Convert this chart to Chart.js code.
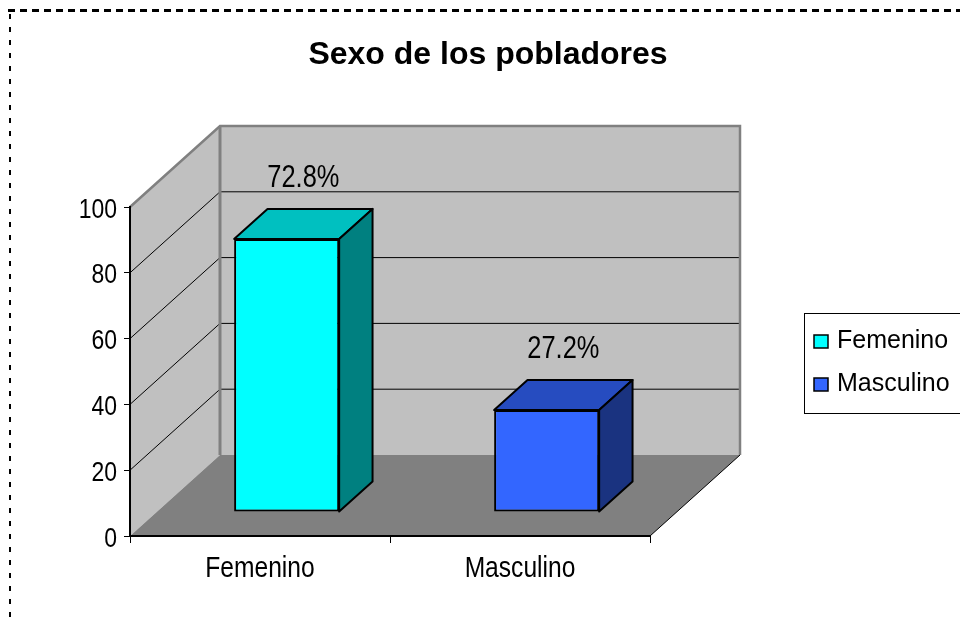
<!DOCTYPE html>
<html>
<head>
<meta charset="utf-8">
<script src="https://cdn.jsdelivr.net/npm/chart.js@4.4.1/dist/chart.umd.min.js"></script>
<style>
  html, body { margin: 0; padding: 0; background: #fff; }
  #wrap { width: 960px; height: 622px; }
</style>
</head>
<body>
<div id="wrap"><canvas id="grafico" width="960" height="622"></canvas></div>
<script>
const chartTitle = "Sexo de los pobladores";
const categories = ["Femenino", "Masculino"];
const counts = [83, 31];
const yTicks = [0, 20, 40, 60, 80, 100];

const frontColors = ["#00FFFF", "#3366FF"];
const topColors = ["#00C0C0", "#264CC0"];
const sideColors = ["#008080", "#1A3380"];

const regular = '"Liberation Sans", Arial, sans-serif';
// no narrow face installed, so the axis texts get squeezed by hand
const squeeze = 0.82;

// depth of the 3d box, and where the bars sit inside it
const depthX = 90, depthY = -81;
const barFront = 0.296, barBack = 0.667;

const total = counts.reduce((a, b) => a + b, 0);
const pctLabels = counts.map((v) => (v / total * 100).toFixed(1) + "%");

function poly(ctx, pts, fill, stroke, lw) {
  ctx.beginPath();
  ctx.moveTo(pts[0][0], pts[0][1]);
  for (let i = 1; i < pts.length; i++) ctx.lineTo(pts[i][0], pts[i][1]);
  ctx.closePath();
  if (fill) { ctx.fillStyle = fill; ctx.fill(); }
  if (stroke) { ctx.strokeStyle = stroke; ctx.lineWidth = lw || 1; ctx.stroke(); }
}

function line(ctx, pts, color, lw) {
  ctx.beginPath();
  ctx.moveTo(pts[0][0], pts[0][1]);
  for (let i = 1; i < pts.length; i++) ctx.lineTo(pts[i][0], pts[i][1]);
  ctx.strokeStyle = color;
  ctx.lineWidth = lw;
  ctx.stroke();
}

function narrowText(ctx, text, x, y, size, align) {
  ctx.save();
  ctx.translate(x, y);
  ctx.scale(squeeze, 1);
  ctx.font = size + "px " + regular;
  ctx.fillStyle = "#000";
  ctx.textAlign = align;
  ctx.textBaseline = "alphabetic";
  ctx.fillText(text, 0, 0);
  ctx.restore();
}

const boxPlugin = {
  id: "box3d",
  beforeDraw(chart) {
    const ctx = chart.ctx;
    const { x, y } = chart.scales;
    const L = x.left, R = x.right;
    const B = y.getPixelForValue(0), T = y.getPixelForValue(100);
    ctx.save();

    // page border (dotted)
    ctx.setLineDash([7, 5]);
    line(ctx, [[8, 10.5], [960, 10.5]], "#000", 3);
    ctx.setLineDash([5, 8]);
    line(ctx, [[10, 14], [10, 622]], "#000", 2);
    ctx.setLineDash([]);

    // walls
    poly(ctx, [[L, B], [L, T], [L + depthX, T + depthY], [L + depthX, B + depthY]], "#C0C0C0");
    poly(ctx, [[L + depthX, T + depthY], [R + depthX, T + depthY], [R + depthX, B + depthY], [L + depthX, B + depthY]], "#C0C0C0");

    yTicks.forEach((v) => {
      if (v <= 0 || v >= 100) return;
      const py = y.getPixelForValue(v);
      line(ctx, [[L, py], [L + depthX, py + depthY], [R + depthX, py + depthY]], "#000", 1);
    });

    line(ctx, [[L, T], [L + depthX, T + depthY], [R + depthX, T + depthY], [R + depthX, B + depthY]], "#808080", 2.5);
    line(ctx, [[L + depthX, T + depthY], [L + depthX, B + depthY]], "#808080", 3);

    // floor
    poly(ctx, [[L, B], [L + depthX, B + depthY], [R + depthX, B + depthY], [R, B]], "#808080");
    line(ctx, [[R, B], [R + depthX, B + depthY]], "#000", 1);

    // title
    ctx.fillStyle = "#000";
    ctx.font = "bold 32px " + regular;
    ctx.textAlign = "center";
    ctx.textBaseline = "alphabetic";
    ctx.fillText(chartTitle, 488, 64);
    ctx.restore();
  },
  beforeDatasetDraw(chart) {
    chart.ctx.save();
    chart.ctx.translate(barFront * depthX, barFront * depthY);
  },
  afterDatasetDraw(chart) {
    chart.ctx.restore();
  },
  afterDatasetsDraw(chart) {
    const ctx = chart.ctx;
    const meta = chart.getDatasetMeta(0);
    const ox = barFront * depthX, oy = barFront * depthY;
    const ddx = (barBack - barFront) * depthX, ddy = (barBack - barFront) * depthY;
    ctx.save();
    ctx.lineJoin = "round";
    meta.data.forEach((bar, i) => {
      const p = bar.getProps(["x", "y", "base", "width"], true);
      const l = p.x - p.width / 2 + ox, r = p.x + p.width / 2 + ox;
      const t = p.y + oy, b = p.base + oy;
      poly(ctx, [[l, t], [r, t], [r + ddx, t + ddy], [l + ddx, t + ddy]], topColors[i], "#000", 2);
      poly(ctx, [[r, t], [r + ddx, t + ddy], [r + ddx, b + ddy], [r, b]], sideColors[i], "#000", 2);
      narrowText(ctx, pctLabels[i], (l + r) / 2 + ddx / 2, t + ddy - 22, 31, "center");
    });
    ctx.restore();
  },
  afterDraw(chart) {
    const ctx = chart.ctx;
    const { x, y } = chart.scales;

    // axis labels, placed from the scales
    y.ticks.forEach((t) => {
      narrowText(ctx, String(t.label), x.left - 13, y.getPixelForValue(t.value) + 10.5, 28, "right");
    });
    categories.forEach((c, i) => {
      narrowText(ctx, c, x.getPixelForValue(i), y.bottom + 41, 30, "center");
    });

    // legend
    ctx.save();
    ctx.strokeStyle = "#000";
    ctx.lineWidth = 1;
    ctx.strokeRect(804.5, 313.5, 170, 100);
    ctx.font = "25px " + regular;
    ctx.textAlign = "left";
    ctx.textBaseline = "middle";
    categories.forEach((c, i) => {
      const cy = 341 + i * 43;
      ctx.fillStyle = frontColors[i];
      ctx.fillRect(814, cy - 6, 14, 13);
      ctx.lineWidth = 1.5;
      ctx.strokeRect(814, cy - 6, 14, 13);
      ctx.fillStyle = "#000";
      ctx.fillText(c, 837, cy);
    });
    ctx.restore();
  }
};

const ctx = document.getElementById("grafico").getContext("2d");
new Chart(ctx, {
  type: "bar",
  data: {
    labels: categories,
    datasets: [
      {
        label: chartTitle,
        data: counts,
        backgroundColor: frontColors,
        borderColor: "#000",
        borderWidth: 2,
        borderSkipped: false,
        barPercentage: 0.404,
        categoryPercentage: 1,
        clip: false,
      },
    ],
  },
  options: {
    responsive: false,
    animation: false,
    layout: { padding: { left: 0, top: 207, right: 310, bottom: 0 } },
    plugins: {
      legend: { display: false },
      title: { display: false },
      tooltip: { enabled: false },
    },
    scales: {
      y: {
        min: 0,
        max: 100,
        afterBuildTicks: (s) => { s.ticks = yTicks.map((v) => ({ value: v })); },
        afterFit: (s) => { s.width = 130; },
        grid: { display: true, drawOnChartArea: false, drawTicks: true, tickLength: 6, color: "#000" },
        border: { display: true, color: "#000", width: 2 },
        ticks: { display: false },
      },
      x: {
        afterFit: (s) => { s.height = 86; },
        grid: { display: true, offset: true, drawOnChartArea: false, drawTicks: true, tickLength: 7, color: "#000" },
        border: { display: true, color: "#000", width: 2 },
        ticks: { display: false },
      },
    },
  },
  plugins: [boxPlugin],
});
</script>
</body>
</html>
